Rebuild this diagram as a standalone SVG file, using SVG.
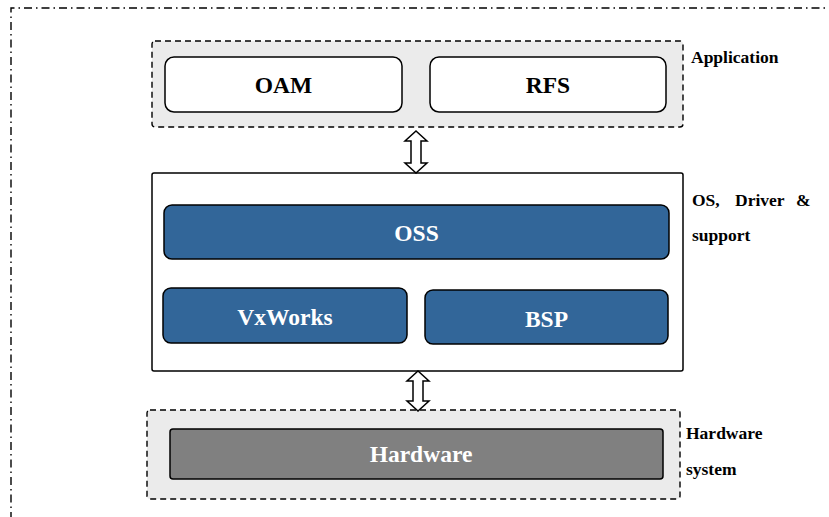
<svg xmlns="http://www.w3.org/2000/svg" width="829" height="517" viewBox="0 0 829 517">
<defs>
<style>
.frame{fill:none;stroke:#000;stroke-width:1.4;stroke-dasharray:8 4 1.5 4}
.grp{fill:#ebebeb;stroke:#000;stroke-width:1.4;stroke-dasharray:6 4}
.box{fill:#fff;stroke:#000;stroke-width:1.5}
.blue{fill:#326699;stroke:#000;stroke-width:1.5}
.gray{fill:#808080;stroke:#000;stroke-width:1.5}
.t{font-family:"Liberation Serif","Times New Roman",serif;font-weight:bold;text-anchor:middle}
.tb{fill:#000;font-size:23.5px}
.tw{fill:#fff;font-size:23.5px}
.lab{font-family:"Liberation Serif","Times New Roman",serif;font-weight:bold;font-size:17.5px;fill:#000}
.arr{fill:#fff;stroke:#000;stroke-width:1.5;stroke-linejoin:miter}
</style>
</defs>
<rect width="829" height="517" fill="#fff"/>
<path class="frame" d="M11,520 L11,8 L832,8"/>

<g id="application">
<rect class="grp" x="152" y="41" width="531" height="86" rx="3"/>
<text class="lab" x="691" y="63">Application</text>
</g>
<g id="oam">
<rect class="box" x="165" y="57" width="237" height="55" rx="9"/>
<text class="t tb" x="283.5" y="93">OAM</text>
</g>
<g id="rfs">
<rect class="box" x="430" y="57" width="236" height="55" rx="9"/>
<text class="t tb" x="548" y="93">RFS</text>
</g>

<g id="os-driver-support">
<rect class="box" x="152" y="173" width="531" height="198" rx="2"/>
<text class="lab" y="206"><tspan x="692">OS,</tspan><tspan x="735">Driver</tspan><tspan x="796">&amp;</tspan></text>
<text class="lab" x="692" y="241">support</text>
</g>
<g id="oss">
<rect class="blue" x="164" y="205" width="505" height="54" rx="8"/>
<text class="t tw" x="416.5" y="241">OSS</text>
</g>
<g id="vxworks">
<rect class="blue" x="163" y="288" width="244" height="55" rx="8"/>
<text class="t tw" x="285" y="325">VxWorks</text>
</g>
<g id="bsp">
<rect class="blue" x="425" y="290" width="243" height="54" rx="8"/>
<text class="t tw" x="546.5" y="327">BSP</text>
</g>

<g id="hardware-system">
<rect class="grp" x="147" y="410" width="533" height="89" rx="3"/>
<text class="lab" x="686" y="439">Hardware</text>
<text class="lab" x="686" y="475">system</text>
</g>
<g id="hardware">
<rect class="gray" x="170" y="429" width="493" height="50" rx="3"/>
<text class="t tw" x="421" y="462">Hardware</text>
</g>

<g id="connectors">
<path class="arr" d="M416,131 L427,141 L421,141 L421,163 L427,163 L416,173 L405,163 L411,163 L411,141 L405,141 Z"/>
<path class="arr" d="M418,371 L429,381 L423,381 L423,401 L429,401 L418,411 L407,401 L413,401 L413,381 L407,381 Z"/>
</g>
</svg>
